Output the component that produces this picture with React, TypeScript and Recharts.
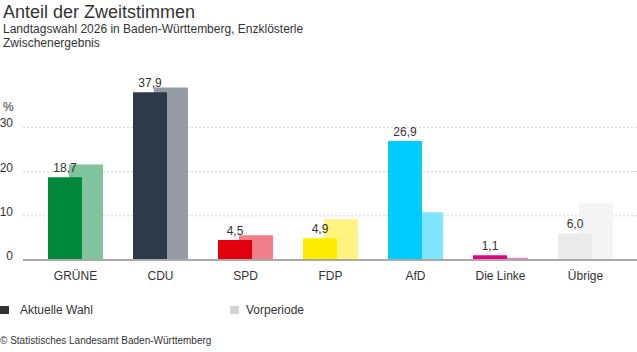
import { Bar, BarChart, CartesianGrid, Cell, LabelList, XAxis, YAxis } from "recharts";

const FONT = "'Liberation Sans', Arial, sans-serif";
const TEXT = "#333333";

const parties = ["GRÜNE", "CDU", "SPD", "FDP", "AfD", "Die Linke", "Übrige"];
const currentValues = [18.7, 37.9, 4.5, 4.9, 26.9, 1.1, 6.0];
const previousValues = [21.6, 39.0, 5.6, 9.2, 10.8, 0.5, 12.8];
const currentColors = ["#00893b", "#2c3a4a", "#e3000f", "#ffed00", "#00ccff", "#e6007e", "#ebebeb"];
const previousColors = ["#80c49d", "#969ca5", "#f07f87", "#fff47f", "#80e5ff", "#f07fbe", "#f4f4f4"];
const yTicks = [0, 10, 20, 30];

const data = parties.map((name, i) => ({
  name,
  current: currentValues[i],
  previous: previousValues[i],
}));

const fmt = (v: number) => v.toFixed(1).replace(".", ",");

function YTick({ y, payload }: any) {
  return (
    <text x={13} y={y - 4} dy="0.35em" textAnchor="end" fontSize={12} fill={TEXT} fontFamily={FONT}>
      {payload.value}
    </text>
  );
}

export default function App() {
  return (
    <div
      style={{
        position: "absolute",
        left: 0,
        top: 0,
        width: 637,
        height: 352,
        background: "#fff",
        fontFamily: FONT,
        color: TEXT,
        overflow: "hidden",
      }}
    >
      <div style={{ position: "absolute", left: 3, top: 1, fontSize: 18, lineHeight: "22px" }}>
        Anteil der Zweitstimmen
      </div>
      <div style={{ position: "absolute", left: 3, top: 22, fontSize: 12, lineHeight: "14px" }}>
        Landtagswahl 2026 in Baden-Württemberg, Enzklösterle
        <br />
        Zwischenergebnis
      </div>
      <div style={{ position: "absolute", left: 3, top: 100, fontSize: 12 }}>%</div>

      <div style={{ position: "absolute", left: 0, top: 0 }}>
        <BarChart
          width={637}
          height={290}
          data={data}
          margin={{ top: 83, right: 0, bottom: 5, left: 0 }}
          barSize={34}
          barGap={-55}
        >
          <CartesianGrid vertical={false} stroke="#d0d0d0" strokeDasharray="2 2" syncWithTicks />
          <XAxis
            dataKey="name"
            height={25}
            padding={{ left: 10, right: 9 }}
            tickLine={false}
            axisLine={{ stroke: "#a9a9a9", strokeWidth: 2 }}
            tickMargin={5}
            tick={{ fontSize: 12, fill: TEXT, fontFamily: FONT }}
            interval={0}
          />
          <YAxis
            width={23}
            domain={[0, 40]}
            ticks={yTicks}
            axisLine={false}
            tickLine={false}
            tick={<YTick />}
          />
          <Bar dataKey="previous" isAnimationActive={false}>
            {data.map((d, i) => (
              <Cell key={d.name} fill={previousColors[i]} />
            ))}
          </Bar>
          <Bar dataKey="current" isAnimationActive={false}>
            {data.map((d, i) => (
              <Cell key={d.name} fill={currentColors[i]} />
            ))}
            <LabelList
              dataKey="current"
              position="top"
              formatter={(v: any) => fmt(Number(v))}
              fontSize={12}
              fill={TEXT}
              fontFamily={FONT}
            />
          </Bar>
        </BarChart>
      </div>

      <div style={{ position: "absolute", left: 0, top: 306, width: 9, height: 8, background: "#333333" }} />
      <div style={{ position: "absolute", left: 20, top: 302, fontSize: 12, lineHeight: "16px" }}>
        Aktuelle Wahl
      </div>
      <div style={{ position: "absolute", left: 230, top: 306, width: 9, height: 8, background: "#d4d4d4" }} />
      <div style={{ position: "absolute", left: 246, top: 302, fontSize: 12, lineHeight: "16px" }}>
        Vorperiode
      </div>
      <div style={{ position: "absolute", left: 0, top: 335, fontSize: 10, lineHeight: "12px" }}>
        © Statistisches Landesamt Baden-Württemberg
      </div>
    </div>
  );
}
